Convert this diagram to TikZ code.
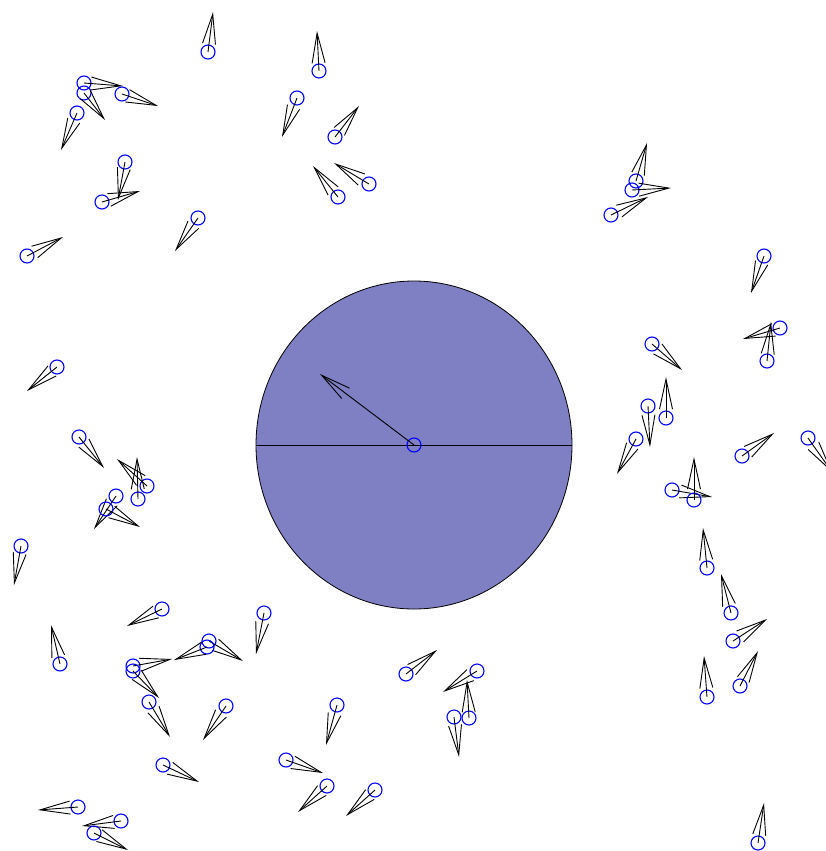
\documentclass[tikz,border=0pt]{standalone}
\usepackage{tikz}
\usetikzlibrary{arrows.meta, shapes.geometric}

\definecolor{obstaclefill}{RGB}{127,127,196}

\begin{document}
\begin{tikzpicture}[
    x=1pt, y=-1pt,
    agent/.style={circle, draw=blue, line width=1.1pt, minimum size=14pt, inner sep=0pt},
    heading/.style={line width=0.9pt, -{Straight Barb[length=30pt, width=13pt, line width=0.9pt]}},
    obstacle/.style={ellipse, draw, fill=obstaclefill, line width=0.8pt, minimum width=316pt, minimum height=328pt, inner sep=0pt}
]
    \useasboundingbox (0,0) rectangle (825,851);

    % obstacle in the middle
    \node[obstacle] (obs) at (414,445) {};
    \draw[line width=0.9pt] (obs.west) -- (obs.east);
    \node[agent] (lead) at (obs.center) {};
    \coordinate (leadtip) at (320,374);
    \draw[heading] (lead.center) -- (leadtip);

    % the flock: number / circle x / circle y / tip x / tip y
    \foreach \n/\cx/\cy/\tx/\ty in {
        1/208/52/213/12, 2/319/71/317/31, 3/84/83/123/86, 4/84/93/105/120,
        5/122/94/158/106, 6/77/113/61/150, 7/297/98/282/137, 8/335/137/359/106,
        9/338/197/313/166, 10/369/184/334/163, 11/125/162/118/200, 12/102/202/140/191,
        13/198/218/175/251, 14/27/256/63/237, 15/636/181/647/143, 16/632/190/671/188,
        17/611/215/648/197, 18/764/256/751/293, 19/57/367/27/391, 20/79/437/104/468,
        21/147/486/117/459, 22/138/499/137/457, 23/116/496/94/529, 24/106/509/140/527,
        25/21/546/14/585, 26/652/344/682/370, 27/666/418/666/377, 28/648/406/650/447,
        29/636/439/617/474, 30/780/328/743/339, 31/767/361/771/322, 32/742/456/774/433,
        33/808/438/832/472, 34/672/490/712/497, 35/694/500/694/457, 36/707/568/703/528,
        37/162/609/127/626, 38/60/664/51/625, 39/264/613/256/654, 40/209/641/243/661,
        41/207/647/174/660, 42/133/666/172/659, 43/133/671/159/698, 44/149/702/170/737,
        45/226/706/203/740, 46/163/765/199/782, 47/337/705/326/745, 48/286/760/323/773,
        49/327/786/298/812, 50/375/790/346/816, 51/78/807/38/810, 52/121/821/82/826,
        53/94/833/128/850, 54/406/674/437/650, 55/477/671/443/692, 56/454/717/459/757,
        57/469/718/467/680, 58/731/613/721/574, 59/733/641/767/619, 60/707/697/704/656,
        61/740/686/758/651, 62/758/843/764/803}
    {
        \node[agent] (agent\n) at (\cx,\cy) {};
        \coordinate (tip\n) at (\tx,\ty);
        \draw[heading] (agent\n.center) -- (tip\n);
    }
\end{tikzpicture}
\end{document}
